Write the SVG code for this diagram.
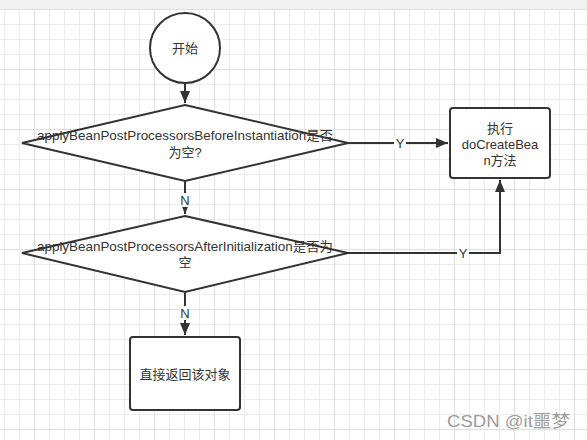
<svg xmlns="http://www.w3.org/2000/svg" width="587" height="440" viewBox="0 0 587 440">
  <defs>
    <pattern id="minor" x="4" y="9" width="15" height="15" patternUnits="userSpaceOnUse">
      <path d="M0.5 0V15M0 0.5H15" fill="none" stroke="#ececec" stroke-width="1"/>
    </pattern>
    <pattern id="major" x="34" y="9" width="60" height="60" patternUnits="userSpaceOnUse">
      <path d="M0.5 0V60M0 0.5H60" fill="none" stroke="#dedede" stroke-width="1"/>
    </pattern>
    <marker id="arrow" viewBox="0 0 12 10" refX="12" refY="5" markerWidth="12" markerHeight="10" markerUnits="userSpaceOnUse" orient="auto">
      <path d="M0 0L12 5L0 10Z" fill="#333"/>
    </marker>
  </defs>
  <style>
    .shape { fill: #fff; stroke: #333; stroke-width: 2; }
    .txt { font-family: "Liberation Sans", "Noto Sans CJK SC", sans-serif; font-size: 13px; fill: #333; text-anchor: middle; }
    .edge { fill: none; stroke: #333; stroke-width: 2; }
    .lbl-bg { fill: #fff; }
  </style>
  <rect x="0" y="0" width="587" height="440" fill="#fff"/>
  <rect x="0" y="9" width="587" height="431" fill="url(#minor)"/>
  <rect x="0" y="9" width="587" height="431" fill="url(#major)"/>
  <rect x="0" y="0" width="587" height="9" fill="#f1f1f1"/>

  <g id="connectors">
    <path class="edge" d="M185 83V103" marker-end="url(#arrow)"/>
    <path class="edge" d="M348 143H448" marker-end="url(#arrow)"/>
    <path class="edge" d="M185 181V214" marker-end="url(#arrow)"/>
    <path class="edge" d="M348 253H500V180" marker-end="url(#arrow)"/>
    <path class="edge" d="M185 292V335" marker-end="url(#arrow)"/>
    <rect class="lbl-bg" x="394" y="136" width="12" height="14"/>
    <text class="txt" x="400" y="148">Y</text>
    <rect class="lbl-bg" x="457" y="246" width="12" height="14"/>
    <text class="txt" x="463" y="258">Y</text>
    <rect class="lbl-bg" x="179" y="193" width="12" height="14"/>
    <text class="txt" x="185" y="205">N</text>
    <rect class="lbl-bg" x="179" y="306" width="12" height="14"/>
    <text class="txt" x="185" y="318">N</text>
  </g>

  <g id="start">
    <circle class="shape" cx="185" cy="48" r="35"/>
    <text class="txt" x="185" y="53">开始</text>
  </g>

  <g id="decision1">
    <polygon class="shape" points="185,105 348,143 185,181 22,143"/>
    <text class="txt" x="185" y="140" textLength="296" lengthAdjust="spacingAndGlyphs">applyBeanPostProcessorsBeforeInstantiation是否</text>
    <text class="txt" x="185" y="157">为空?</text>
  </g>

  <g id="doCreateBean">
    <rect class="shape" x="450" y="108" width="100" height="70" rx="3"/>
    <text class="txt" x="500" y="133">执行</text>
    <text class="txt" x="500" y="149">doCreateBea</text>
    <text class="txt" x="500" y="165">n方法</text>
  </g>

  <g id="decision2">
    <polygon class="shape" points="185,216 348,253 185,292 22,253"/>
    <text class="txt" x="185" y="251" textLength="296" lengthAdjust="spacingAndGlyphs">applyBeanPostProcessorsAfterInitialization是否为</text>
    <text class="txt" x="185" y="267">空</text>
  </g>

  <g id="returnObject">
    <rect class="shape" x="130" y="337" width="110" height="73" rx="3"/>
    <text class="txt" x="185" y="379">直接返回该对象</text>
  </g>

  <text x="447" y="427" font-family="Liberation Sans, Noto Sans CJK SC, sans-serif" font-size="17" fill="#9c9c9c" textLength="123" lengthAdjust="spacingAndGlyphs">CSDN @it噩梦</text>
</svg>
